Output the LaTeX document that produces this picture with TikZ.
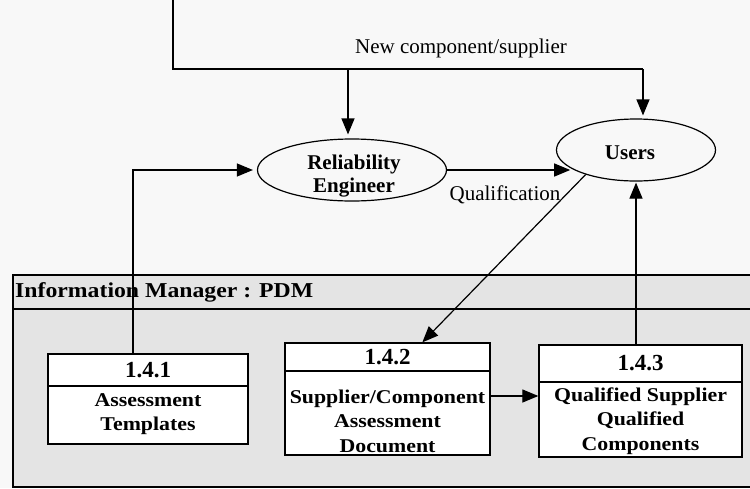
\documentclass[tikz,border=0pt]{standalone}
\usepackage{fontspec}
\setmainfont{Liberation Serif}
\newfontfamily\wideserif[FakeStretch=1.12]{Liberation Serif}
\usetikzlibrary{arrows.meta,shapes.geometric,calc}
\definecolor{pagebg}{HTML}{F8F8F8}
\definecolor{framegray}{HTML}{E4E4E4}
\begin{document}
\begin{tikzpicture}[x=1pt,y=-1pt,
  conn/.style={line width=1.2pt},
  arr/.style={conn,-{Triangle[length=16pt,width=13pt]}},
  lbl/.style={inner sep=0pt,font=\fontsize{21}{24}\selectfont},
  ell/.style={ellipse,draw,line width=1.2pt,fill=pagebg,inner sep=0pt},
  elltext/.style={inner sep=0pt,align=center,font=\fontsize{21}{23}\selectfont\bfseries},
  boxh/.style={rectangle,draw,line width=1.3pt,fill=white,inner sep=0pt,
    font=\fontsize{23}{24}\selectfont\bfseries},
  boxb/.style={rectangle,draw,line width=1.3pt,fill=white,inner sep=0pt},
  boxt/.style={inner sep=0pt,align=center,font=\wideserif\bfseries\fontsize{19.5}{24.5}\selectfont},
]
\useasboundingbox (0,0) rectangle (750,488);
\fill[pagebg] (0,0) rectangle (750,488);
% frame of the information manager
\filldraw[fill=framegray,line width=1.3pt] (13,275) rectangle (770,487);
\draw[line width=1.3pt] (13,309) -- (770,309);
\node[anchor=west,inner sep=0pt,font=\wideserif\bfseries\fontsize{21.2}{22}\selectfont] (hdr) at (15,292) {Information Manager : PDM};
% ellipses
\node[ell,minimum width=189pt,minimum height=62pt] (RE) at (352,170) {};
\node[elltext] (REt) at (354,176) {Reliability\\Engineer};
\node[ell,minimum width=159pt,minimum height=62pt] (Users) at (636,150) {};
\node[elltext] (Ut) at (630,153) {Users};
% boxes
\node[boxh,minimum width=200pt,minimum height=32pt] (B1h) at (148,370) {1.4.1};
\node[boxb,minimum width=200pt,minimum height=58pt] (B1b) at (148,415) {};
\node[boxt] (B1t) at (148,414) {Assessment\\Templates};
\node[boxh,minimum width=205pt,minimum height=28pt] (B2h) at (387.5,357) {1.4.2};
\node[boxb,minimum width=205pt,minimum height=84pt] (B2b) at (387.5,413) {};
\node[boxt] (B2t) at (387.5,421) {Supplier/Component\\Assessment\\Document};
\node[boxh,minimum width=203pt,minimum height=37pt] (B3h) at (640.5,363.5) {1.4.3};
\node[boxb,minimum width=203pt,minimum height=75pt] (B3b) at (640.5,419.5) {};
\node[boxt] (B3t) at (640.5,421) {Qualified Supplier\\Qualified\\Components};
% labels
\node[lbl] (newlbl) at (461,48) {New component/supplier};
\node[lbl] (qual) at (505,195) {Qualification};
% connectors
\coordinate (top) at (173,0);
\coordinate (jR) at (348,69);
\coordinate (jU) at (643,69);
\draw[conn] (top) |- (jU);
\draw[arr,shorten >=4pt] (jR) -- (jR |- RE.north);
\draw[arr,shorten >=3pt] (jU) -- (jU |- Users.north);
\draw[arr,shorten >=1pt] (RE.east) -- (RE.east -| Users.196);
\draw[arr] (Users.206) -- ($(B2h.north west)+(138,0)$);
\draw[arr,shorten >=1pt] (B3h.north -| Users.south) -- (Users.south);
\draw[arr,shorten >=4pt] ($(B1h.north)+(-15,0)$) |- (RE.west);
\draw[arr] ($(B2b.east)+(0,-17)$) -- ($(B2b.east -| B3b.west)+(0,-17)$);
\end{tikzpicture}
\end{document}
